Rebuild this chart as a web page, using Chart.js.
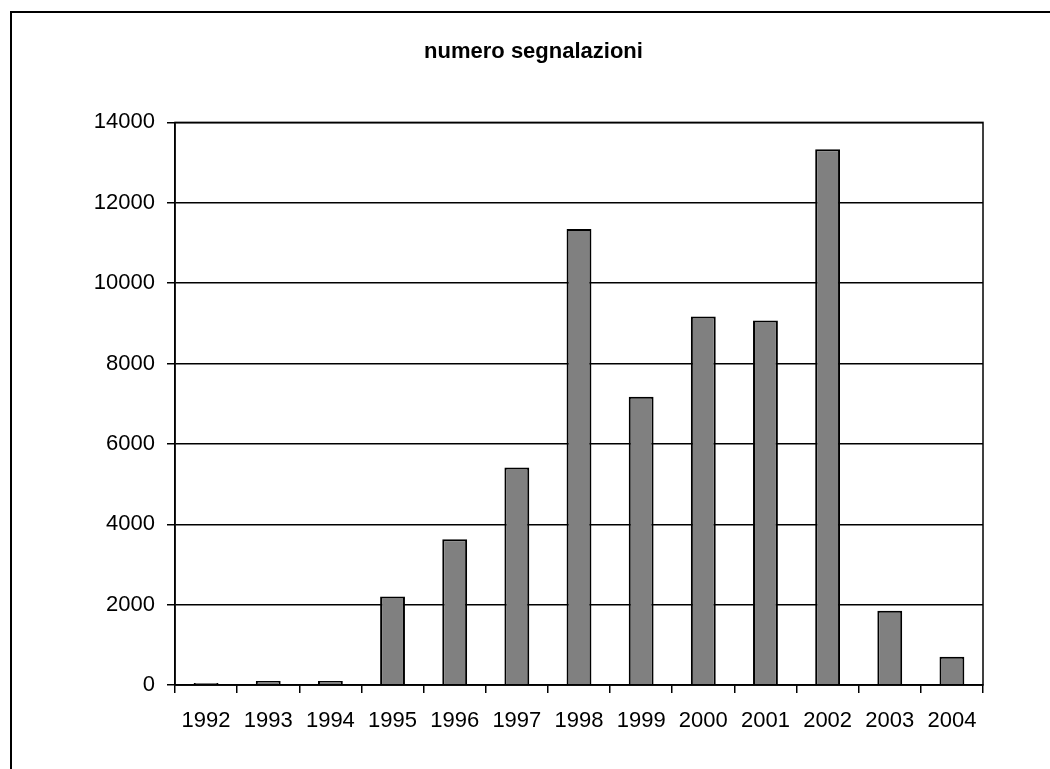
<!DOCTYPE html>
<html>
<head>
<meta charset="utf-8">
<script src="https://cdn.jsdelivr.net/npm/chart.js@4/dist/chart.umd.min.js"></script>
<style>
  html, body { margin: 0; padding: 0; background: #fff; }
  #wrap { width: 1050px; height: 769px; }
</style>
</head>
<body>
<div id="wrap"><canvas id="chart"></canvas></div>
<script>
// dati
const anni = ["1992", "1993", "1994", "1995", "1996", "1997", "1998", "1999", "2000", "2001", "2002", "2003", "2004"];
const segnalazioni = [50, 100, 100, 2200, 3630, 5410, 11350, 7170, 9170, 9070, 13330, 1850, 700];
const titolo = "numero segnalazioni";

// cornice esterna e riquadro dell'area del grafico
const cornice = {
    id: "cornice",
    beforeDraw(chart) {
        const ctx = chart.ctx;
        ctx.save();
        ctx.fillStyle = "#fff";
        ctx.fillRect(0, 0, chart.width, chart.height);
        ctx.strokeStyle = "#000";
        ctx.lineWidth = 2;
        ctx.beginPath();
        ctx.moveTo(11, chart.height);
        ctx.lineTo(11, 12);
        ctx.lineTo(chart.width, 12);
        ctx.stroke();
        ctx.restore();
    },
    afterDatasetsDraw(chart) {
        const a = chart.chartArea;
        const ctx = chart.ctx;
        ctx.save();
        ctx.strokeStyle = "#000";
        ctx.lineWidth = 1.5;
        ctx.strokeRect(a.left, a.top, a.right - a.left, a.bottom - a.top);
        ctx.restore();
    }
};

const fontTick = { family: "'Liberation Sans', Arial, sans-serif", size: 22 };

new Chart(document.querySelector("#chart"), {
    type: "bar",
    data: {
        labels: anni,
        datasets: [{
            label: titolo,
            data: segnalazioni,
            backgroundColor: "#808080",
            borderColor: "#000",
            borderWidth: 2,
            barPercentage: 0.4,
            categoryPercentage: 1,
        }],
    },
    options: {
        responsive: true,
        maintainAspectRatio: false,
        animation: false,
        layout: { padding: { left: 84, right: 67, top: 0, bottom: 0 } },
        plugins: {
            legend: { display: false },
            tooltip: { enabled: false },
            title: {
                display: true,
                text: titolo,
                color: "#000",
                font: { family: "'Liberation Sans', Arial, sans-serif", size: 22, weight: "bold" },
                padding: { top: 39, bottom: 57 },
            },
        },
        scales: {
            x: {
                grid: {
                    offset: true,
                    drawOnChartArea: false,
                    drawTicks: true,
                    tickLength: 8,
                    color: "#000",
                    lineWidth: 1.5,
                },
                border: { color: "#000", width: 1.5 },
                ticks: {
                    color: "#000",
                    padding: 15,
                    maxRotation: 0,
                    autoSkip: false,
                    font: fontTick,
                },
                afterFit(scale) { scale.height = 84; },
            },
            y: {
                min: 0,
                max: 14000,
                ticks: {
                    stepSize: 2000,
                    color: "#000",
                    padding: 12,
                    font: fontTick,
                    callback: v => String(v), // niente separatore delle migliaia
                },
                grid: {
                    color: "#000",
                    lineWidth: 1.5,
                    tickLength: 8,
                },
                border: { color: "#000", width: 1.5 },
                afterFit(scale) { scale.width = 91; },
            },
        },
    },
    plugins: [cornice],
});
</script>
</body>
</html>
